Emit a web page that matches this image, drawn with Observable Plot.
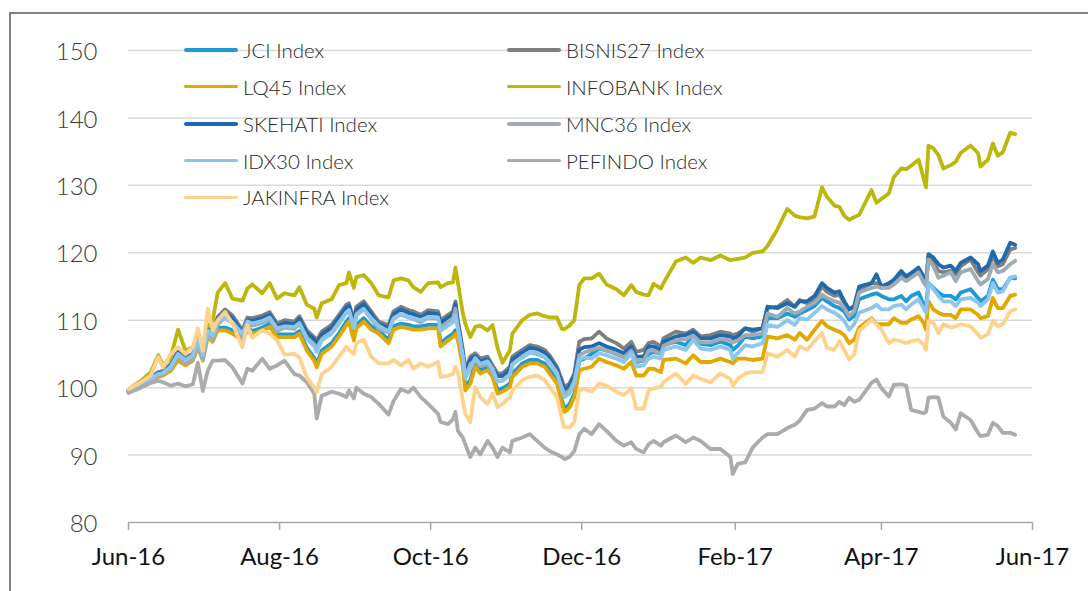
<!DOCTYPE html>
<html><head><meta charset="utf-8">
<script src="https://cdn.jsdelivr.net/npm/d3@7"></script>
<script src="https://cdn.jsdelivr.net/npm/@observablehq/plot@0.6"></script>
<style>
html,body{margin:0;padding:0;background:#fff;}
#wrap{position:relative;width:1088px;height:591px;overflow:hidden;font-family:Lato,"Open Sans",sans-serif;}
#frame{position:absolute;left:9px;top:12px;width:1200px;height:700px;border:2px solid #808080;box-sizing:border-box;}
#chart{position:absolute;left:0;top:0;}
.leg{position:absolute;height:24px;display:flex;align-items:center;white-space:nowrap;}
.leg .sw{display:inline-block;width:54px;height:3.6px;border-radius:2px;}
.leg .tx{margin-left:5px;font-size:20.5px;color:#2a2a2a;font-weight:300;}
</style></head>
<body>
<div id="wrap"><div id="frame"></div><div id="chart"></div><div id="legend"></div></div>
<script>
const dates = [
"2016-06-01","2016-06-06","2016-06-10","2016-06-13","2016-06-15","2016-06-18","2016-06-21","2016-06-24","2016-06-27","2016-06-29",
"2016-07-01","2016-07-03","2016-07-05","2016-07-07","2016-07-10","2016-07-13","2016-07-17","2016-07-19","2016-07-21","2016-07-25",
"2016-07-28","2016-07-31","2016-08-03","2016-08-07","2016-08-09","2016-08-12","2016-08-15","2016-08-16","2016-08-18","2016-08-22",
"2016-08-25","2016-08-28","2016-08-29","2016-08-31","2016-09-01","2016-09-04","2016-09-07","2016-09-10","2016-09-14","2016-09-16",
"2016-09-19","2016-09-22","2016-09-24","2016-09-27","2016-09-30","2016-10-04","2016-10-05","2016-10-08","2016-10-10","2016-10-11",
"2016-10-12","2016-10-14","2016-10-15","2016-10-17","2016-10-19","2016-10-21","2016-10-24","2016-10-26","2016-10-28","2016-10-30",
"2016-11-02","2016-11-03","2016-11-07","2016-11-10","2016-11-13","2016-11-16","2016-11-18","2016-11-21","2016-11-23","2016-11-24",
"2016-11-26","2016-11-28","2016-11-30","2016-12-02","2016-12-05","2016-12-08","2016-12-11","2016-12-15","2016-12-18","2016-12-21",
"2016-12-23","2016-12-26","2016-12-28","2016-12-30","2017-01-02","2017-01-03","2017-01-08","2017-01-12","2017-01-15","2017-01-18",
"2017-01-22","2017-01-26","2017-01-30","2017-01-31","2017-02-02","2017-02-05","2017-02-08","2017-02-12","2017-02-14","2017-02-18",
"2017-02-22","2017-02-25","2017-02-27","2017-03-02","2017-03-05","2017-03-08","2017-03-10","2017-03-13","2017-03-15","2017-03-17",
"2017-03-19","2017-03-21","2017-03-23","2017-03-28","2017-03-30","2017-04-01","2017-04-04","2017-04-06","2017-04-09","2017-04-11",
"2017-04-13","2017-04-16","2017-04-18","2017-04-19","2017-04-20","2017-04-22","2017-04-24","2017-04-26","2017-04-29","2017-05-01",
"2017-05-03","2017-05-07","2017-05-10","2017-05-11","2017-05-14","2017-05-16","2017-05-18","2017-05-20","2017-05-23","2017-05-25"];

const jci = [
99.4,100.6,101.3,101.9,102.1,102.9,104.4,103.7,104.4,106.4,
104.4,107.9,107.2,108.9,108.9,108.5,107.4,108.9,108.4,108.9,
109.5,107.9,107.9,107.9,108.4,105.9,104.4,103.5,105.5,106.6,
108.1,109.8,110.3,107.5,109.3,110.3,109.1,108.5,107.1,109.1,
109.5,109.3,109.1,109.1,109.3,109.3,106.6,107.5,108.0,108.5,
107.5,103.6,100.1,101.1,103.6,102.6,103.1,102.1,99.6,99.9,
100.6,102.1,103.6,104.1,104.1,103.6,102.6,101.1,98.1,96.9,
97.5,99.1,104.0,104.3,105.0,105.8,105.5,105.0,104.5,105.7,
103.8,104.0,105.0,105.3,105.0,106.3,106.8,106.3,107.8,106.5,
106.3,106.8,106.3,105.6,106.2,107.6,107.3,107.6,110.3,110.3,
111.0,110.5,111.0,111.5,112.1,113.3,112.8,112.1,111.8,111.3,
110.1,110.6,113.1,113.8,114.0,113.6,113.1,113.1,113.6,112.8,
113.6,114.1,112.3,112.1,115.5,114.8,114.1,113.6,113.6,113.1,
114.1,114.6,113.3,112.8,113.6,116.0,114.6,114.6,116.3,116.2];

const bisnis27 = [
99.6,100.7,101.5,102.3,102.5,103.5,105.5,104.5,105.0,107.5,
105.0,109.0,108.0,110.5,111.6,110.7,108.5,110.4,110.3,110.7,
111.2,109.5,110.0,109.8,110.6,108.5,107.5,107.0,108.3,109.3,
110.8,112.3,112.5,110.0,112.0,112.8,111.3,109.8,109.3,111.3,
112.0,111.5,111.3,110.8,111.5,111.3,110.0,110.8,111.3,112.8,
110.0,105.6,102.6,104.6,105.1,104.3,104.6,103.3,102.1,102.1,
103.1,104.6,105.6,106.3,106.1,105.6,104.8,103.1,101.1,100.1,
100.6,102.1,106.8,107.2,107.3,108.3,107.3,106.6,105.8,106.8,
105.3,105.6,106.6,106.8,106.1,107.3,108.3,108.0,108.6,107.6,
107.8,108.3,108.0,107.8,108.0,108.8,108.3,108.8,111.8,112.0,
113.0,112.0,113.0,112.5,113.1,115.0,114.2,113.6,113.8,112.6,
111.6,112.0,114.5,115.5,115.5,114.8,115.3,115.8,116.8,116.3,
116.8,117.3,116.2,115.3,119.5,118.6,117.3,117.1,117.3,116.8,
118.0,119.0,117.1,116.6,117.6,119.5,118.0,118.3,120.5,120.7];

const lq45 = [
99.3,100.3,101.0,101.6,101.8,102.5,104.0,103.3,104.0,106.0,
104.0,107.5,106.8,108.5,108.5,108.0,107.0,108.5,108.0,108.5,
109.0,107.5,107.5,107.5,108.0,105.5,104.0,103.0,105.0,106.1,
107.6,109.3,109.8,107.0,108.8,109.8,108.6,108.0,106.6,108.6,
109.0,108.8,108.6,108.6,108.8,108.8,106.1,107.0,107.5,108.0,
107.0,103.1,99.6,100.6,103.1,102.1,102.6,101.6,99.1,99.4,
100.1,101.6,103.1,103.6,103.6,103.1,102.1,100.6,97.6,96.4,
97.0,98.6,102.6,102.8,103.1,104.3,103.8,103.3,102.8,103.8,
101.8,101.8,102.8,102.8,102.3,104.1,104.3,103.6,104.8,103.8,
103.8,104.3,103.8,103.6,104.3,104.3,104.1,104.3,107.6,107.3,
107.8,107.1,108.1,107.1,108.6,109.9,109.1,108.6,108.3,107.8,
106.6,107.1,108.9,110.3,109.4,109.4,109.4,110.3,109.6,109.6,
110.1,110.6,109.6,108.6,112.8,111.6,111.1,110.8,110.8,110.3,
111.6,111.6,110.8,110.3,110.6,113.3,111.8,111.8,113.6,113.8];

const infobank = [
99.8,101.0,102.3,104.8,103.3,104.5,108.6,105.5,106.0,107.5,
106.5,109.0,110.0,114.1,115.5,113.2,112.9,114.7,115.3,114.0,
115.5,113.2,114.0,113.7,114.9,112.3,111.7,110.4,112.5,113.1,
115.2,115.5,117.1,114.8,116.4,116.7,115.5,113.7,113.4,115.9,
116.2,115.9,114.9,114.2,115.5,115.6,114.9,115.5,115.6,117.8,
115.6,111.0,109.5,107.5,109.0,109.2,108.5,109.3,105.9,103.7,
105.5,108.0,110.0,110.8,111.0,110.6,110.4,110.4,108.7,108.7,
109.2,110.0,115.2,116.2,116.2,116.9,115.3,114.6,113.7,115.2,
114.2,113.8,113.7,115.4,114.7,115.5,118.7,119.3,118.5,119.3,
118.9,119.6,118.9,119.0,119.1,119.3,120.0,120.2,121.0,123.5,
126.5,125.5,125.3,125.1,125.4,129.7,128.3,127.0,126.8,125.5,
124.9,125.3,125.6,129.3,127.4,128.0,128.8,131.2,132.5,132.4,
132.9,133.8,131.1,129.7,135.9,135.5,134.5,132.5,133.0,133.5,
134.8,135.9,134.8,132.8,133.8,136.2,134.4,134.9,137.8,137.6];

const skehati = [
99.5,100.5,101.3,102.1,102.3,103.2,105.1,104.1,104.7,107.1,
104.6,108.6,107.6,110.1,111.2,110.3,108.1,110.0,109.9,110.3,
110.8,109.1,109.6,109.4,110.2,108.1,107.1,106.6,107.9,108.9,
110.4,111.9,112.1,109.6,111.6,112.4,110.9,109.4,108.9,110.9,
111.6,111.1,110.9,110.4,111.1,110.9,109.6,110.4,110.9,112.4,
109.6,105.2,102.2,104.2,104.7,103.9,104.2,102.9,101.7,101.7,
102.7,104.2,105.2,105.9,105.7,105.2,104.4,102.7,100.7,99.7,
100.2,101.7,105.6,106.0,106.1,106.6,106.1,105.6,105.1,106.1,
104.6,104.6,106.1,106.1,105.6,106.8,107.6,107.8,108.3,107.3,
107.3,107.8,107.6,107.3,107.6,108.8,108.6,108.8,112.0,111.8,
112.5,112.0,112.8,112.8,113.6,115.5,114.8,114.1,114.3,112.8,
111.6,112.1,115.0,115.5,116.8,115.0,115.5,116.0,117.3,116.5,
117.0,117.8,116.5,115.5,119.8,119.3,118.3,117.8,118.1,117.3,
118.5,119.3,118.3,117.3,118.1,120.2,118.5,119.0,121.5,121.2];

const mnc36 = [
99.4,100.4,101.1,101.8,102.0,102.8,104.6,103.6,104.2,106.6,
104.1,108.0,107.0,109.4,110.4,109.6,107.5,109.3,109.2,109.6,
110.1,108.4,108.9,108.7,109.5,107.4,106.4,105.9,107.2,108.2,
109.7,111.2,111.4,108.9,110.9,111.7,110.2,108.7,108.2,110.2,
110.9,110.4,110.2,109.7,110.4,110.2,108.9,109.7,110.2,111.7,
108.9,104.5,101.5,103.5,104.0,103.2,103.5,102.2,101.0,101.0,
102.0,103.5,104.5,105.2,105.0,104.5,103.7,102.0,100.0,99.0,
99.5,101.0,104.8,105.2,105.6,105.9,105.5,105.0,104.5,105.5,
104.0,104.0,105.5,105.5,105.0,106.2,107.0,107.2,107.7,106.7,
106.7,107.2,107.0,106.7,107.0,107.8,107.8,108.0,111.0,110.5,
111.8,111.0,111.3,112.0,112.6,113.8,113.3,112.8,112.6,111.8,
110.6,111.3,114.1,114.8,115.0,114.8,114.8,115.3,116.3,115.8,
116.3,117.1,115.6,115.1,119.0,118.0,116.3,116.6,117.1,115.8,
117.1,117.6,115.8,115.3,116.1,118.3,117.1,117.3,118.3,118.8];

const idx30 = [
99.4,100.5,101.3,102.0,102.2,103.1,105.0,104.1,104.8,107.1,
104.8,108.5,107.7,109.8,110.3,109.7,108.0,109.8,109.5,109.9,
110.4,108.8,109.1,109.0,109.6,107.3,106.1,105.3,107.0,108.0,
109.5,111.1,111.5,108.8,110.7,111.6,110.3,109.2,108.3,110.3,
110.8,110.5,110.3,110.0,110.5,110.4,108.4,109.2,109.7,110.7,
108.8,104.6,101.4,102.9,104.4,103.5,103.9,102.8,100.9,101.1,
101.9,103.4,104.6,105.3,105.2,104.6,103.8,102.2,99.7,98.6,
99.1,100.7,104.1,104.5,104.3,105.1,104.8,104.3,103.8,105.1,
103.1,103.3,104.3,104.6,104.3,105.6,106.1,105.6,107.1,105.8,
105.6,106.1,105.6,104.3,105.1,106.3,106.1,106.6,109.3,109.0,
110.0,109.3,110.3,110.1,111.1,112.1,111.6,111.1,110.6,109.9,
108.6,109.4,111.1,111.8,112.3,111.6,111.6,112.1,112.3,111.6,
112.3,113.1,111.8,111.1,115.5,114.6,113.6,112.8,112.8,112.1,
113.1,113.3,112.6,112.1,113.1,115.5,114.1,114.3,116.3,116.5];

const pefindo = [
99.2,100.0,100.7,101.0,100.8,100.3,100.6,100.2,100.5,103.7,
99.5,102.5,104.0,104.0,104.1,103.0,100.6,102.8,102.5,104.3,
102.8,103.3,104.0,102.0,101.8,100.8,99.1,95.4,98.8,99.4,
99.1,98.6,99.6,98.4,100.0,99.1,98.6,97.6,96.0,98.0,
99.8,99.3,100.0,98.6,97.6,96.1,94.9,94.6,95.3,96.4,
93.6,92.6,91.6,89.7,91.1,90.1,92.1,91.1,89.7,91.1,
90.4,92.1,92.6,93.1,92.1,91.1,90.6,90.1,89.7,89.4,
89.7,90.6,93.1,93.9,93.1,94.6,93.6,92.1,91.4,91.9,
90.9,90.4,91.6,92.1,91.4,91.9,92.9,91.9,92.6,92.1,
90.9,90.9,89.7,87.2,88.7,88.9,91.1,92.6,93.1,93.1,
94.0,94.5,95.1,96.7,96.9,97.7,97.2,97.2,97.9,97.4,
98.5,97.9,98.2,100.7,101.2,99.9,98.7,100.4,100.5,100.3,
96.7,96.4,96.2,96.4,98.5,98.6,98.5,95.7,94.8,93.8,
96.2,95.2,93.3,92.8,93.0,94.8,94.3,93.3,93.3,93.0];

const jakinfra = [
99.8,100.8,101.8,104.5,103.0,105.0,106.0,105.0,106.0,108.8,
105.5,111.7,108.5,110.0,111.2,109.5,106.0,109.3,107.4,108.5,
108.0,107.0,104.9,105.0,104.5,101.5,100.0,99.3,102.0,103.1,
104.6,106.1,105.6,105.0,106.6,107.1,104.6,103.6,103.6,104.1,
103.3,104.1,102.8,103.6,103.1,103.8,101.6,101.8,102.0,103.1,
102.3,98.1,96.1,94.9,100.1,98.6,97.6,99.1,97.1,97.6,
98.6,99.6,101.1,101.6,101.8,101.1,100.1,98.6,95.4,94.1,
94.1,94.9,99.6,99.8,99.4,100.6,100.3,99.4,98.9,99.9,
96.9,96.9,99.6,99.9,100.1,100.8,102.1,100.6,101.8,101.3,
100.8,102.1,101.3,100.3,101.3,102.1,102.3,102.3,105.1,104.6,
105.6,104.6,106.1,105.6,106.9,108.1,105.9,105.6,106.9,105.6,
104.2,104.9,108.4,110.1,109.4,108.6,106.6,107.1,106.9,106.6,
106.9,107.1,106.4,105.6,109.9,109.6,108.1,109.4,108.9,109.1,
109.4,109.1,107.9,107.4,107.9,109.9,109.1,109.4,111.3,111.6];

const seriesNames = ["JCI Index","BISNIS27 Index","LQ45 Index","INFOBANK Index","SKEHATI Index","MNC36 Index","IDX30 Index","PEFINDO Index","JAKINFRA Index"];
const seriesColors = ["#1b9ad6","#7f7f7f","#e3a800","#bdb70d","#1f69ad","#9eabb3","#8cc6ef","#ababab","#fdd28d"];
const seriesValues = [jci, bisnis27, lq45, infobank, skehati, mnc36, idx30, pefindo, jakinfra];

const yTicks = [80, 90, 100, 110, 120, 130, 140, 150];
const xTickDates = ["2016-06-01","2016-08-01","2016-10-01","2016-12-01","2017-02-01","2017-04-01","2017-06-01"];
const xTickLabels = ["Jun-16","Aug-16","Oct-16","Dec-16","Feb-17","Apr-17","Jun-17"];

const parse = d3.utcParse("%Y-%m-%d");
const tickDates = xTickDates.map(parse);

const lineMarks = seriesValues.map((vals, k) =>
  Plot.line(dates.map((d, i) => ({date: parse(d), value: vals[i], series: seriesNames[k]})), {
    x: "date", y: "value", stroke: seriesColors[k], strokeWidth: 3.8,
    strokeLinejoin: "round", strokeLinecap: "round"
  })
);

const chart = Plot.plot({
  width: 1088, height: 591,
  marginLeft: 128, marginRight: 56, marginTop: 50, marginBottom: 69,
  style: {fontFamily: "Lato, 'Open Sans', sans-serif", background: "transparent", overflow: "visible"},
  x: {type: "utc", domain: [parse("2016-06-01"), parse("2017-06-01")]},
  y: {domain: [80, 150]},
  marks: [
    Plot.ruleY(yTicks.filter(v => v > 80), {stroke: "#d9d9d9", strokeWidth: 1.5}),
    Plot.ruleY([80], {stroke: "#a6a6a6", strokeWidth: 1.5}),
    Plot.axisY({ticks: yTicks, tickSize: 0, tickPadding: 31, fontSize: 24, fontWeight: 300, fill: "#3a3a3a", label: null, tickFormat: d => String(d), dy: 2}),
    Plot.axisX({ticks: tickDates, tickSize: 8, tickPadding: 17, stroke: "#a6a6a6", strokeWidth: 1.5, fontSize: 24, fill: "#111", label: null,
      tickFormat: d => xTickLabels[tickDates.findIndex(t => +t === +d)]}),
    ...lineMarks
  ]
});
document.getElementById("chart").appendChild(chart);

// legend (row-major, two columns)
const legendCols = [184, 507];
const legendRows = [50, 86.7, 124, 160.7, 197.3];
const legend = document.getElementById("legend");
seriesNames.forEach((name, i) => {
  const item = document.createElement("div");
  item.className = "leg";
  item.style.left = legendCols[i % 2] + "px";
  item.style.top = (legendRows[Math.floor(i / 2)] - 12) + "px";
  const sw = document.createElement("span");
  sw.className = "sw";
  sw.style.background = seriesColors[i];
  const tx = document.createElement("span");
  tx.className = "tx";
  tx.textContent = name;
  item.appendChild(sw); item.appendChild(tx);
  legend.appendChild(item);
});
</script>
</body></html>
